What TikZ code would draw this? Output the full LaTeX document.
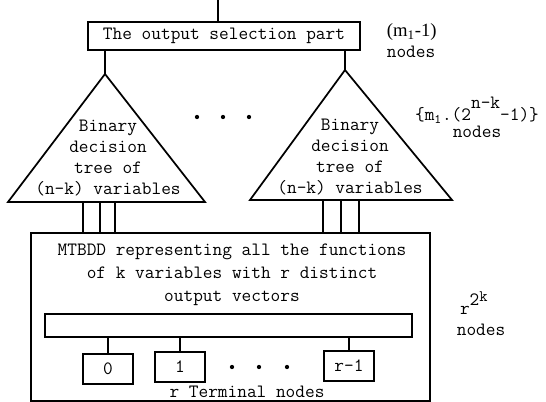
\documentclass[tikz,border=0pt]{standalone}
\usepackage{fontspec}
\setmainfont{Liberation Serif}
\usetikzlibrary{positioning}

\newcommand{\upby}[2]{\raisebox{#1}{#2}}

\begin{document}
\begin{tikzpicture}[x=0.75pt,y=-0.75pt,line width=1.3pt,
    font=\ttfamily\fontsize{14.1}{15.75}\selectfont,
    blk/.style={draw,inner sep=0pt},
    term/.style={blk,minimum width=37pt,minimum height=22pt},
    lbl/.style={inner sep=0pt,align=center}]
   \useasboundingbox (0,0) rectangle (546,402);

   % output selection part
   \coordinate (in) at (218,0);
   \node[blk,minimum width=204pt,minimum height=21pt] (sel) at (224,36) {The output selection part};
   \node[lbl,align=left,anchor=west] (selnote) at (386,41) {\rmfamily\fontsize{14}{14}\selectfont(m\textsubscript{1}-1)\\[0pt]nodes};

   % binary decision trees
   \coordinate (apexL) at (105,74);
   \coordinate (blL)   at (8,202);
   \coordinate (brL)   at (205,202);
   \coordinate (apexR) at (345,70);
   \coordinate (blR)   at (250,200);
   \coordinate (brR)   at (452,200);
   \draw (apexL) -- (blL) -- (brL) -- cycle;
   \draw (apexR) -- (blR) -- (brR) -- cycle;
   \node[lbl] (treeL) at (108,158) {Binary\\decision\\tree of\\(n-k) variables};
   \node[lbl] (treeR) at (350,157) {Binary\\decision\\tree of\\(n-k) variables};
   \node[lbl] (treenote) at (477,117) {\{m\textsubscript{1}.(2\upby{9pt}{n-k}-1)\}\\[-3pt]nodes};
   \foreach \x in {197,223,249} \fill (\x,117) circle (1.6pt);

   % MTBDD part
   \node[blk,minimum width=299pt,minimum height=126pt] (mt) at (230.5,317) {};
   \node[lbl,font=\ttfamily\fontsize{14.1}{17.25}\selectfont] (mttxt) at (232,275)
      {MTBDD representing all the functions\\of k variables with r distinct\\output vectors};
   \node[lbl,align=left,anchor=west] (mtnote) at (456,314) {\,r\upby{7pt}{2\upby{3pt}{\fontsize{12}{12}\selectfont k}}\\[0pt]nodes};
   \node[blk,minimum width=275pt,minimum height=17pt] (bar) at (228.5,325.5) {};
   \node[term] (t0) at (108,369) {0};
   \node[term] (t1) at (180,367) {1};
   \node[term] (tr) at (349,366) {r-1};
   \foreach \x in {232,259,287} \fill (\x,367) circle (1.6pt);
   \node[lbl] (tlabel) at (247,392) {r Terminal nodes};

   % connections
   \draw (in) -- (in |- sel.north);
   \draw (apexL |- sel.south) -- (apexL);
   \draw (apexR |- sel.south) -- (apexR);
   \foreach \x [count=\i] in {83,100,115} {
      \coordinate (wL\i) at (\x,202);
      \draw (wL\i) -- (wL\i |- mt.north);
   }
   \foreach \x [count=\i] in {323,341,359} {
      \coordinate (wR\i) at (\x,200);
      \draw (wR\i) -- (wR\i |- mt.north);
   }
   \foreach \t in {t0,t1,tr}
      \draw (bar.south -| \t.north) -- (\t.north);
\end{tikzpicture}
\end{document}
